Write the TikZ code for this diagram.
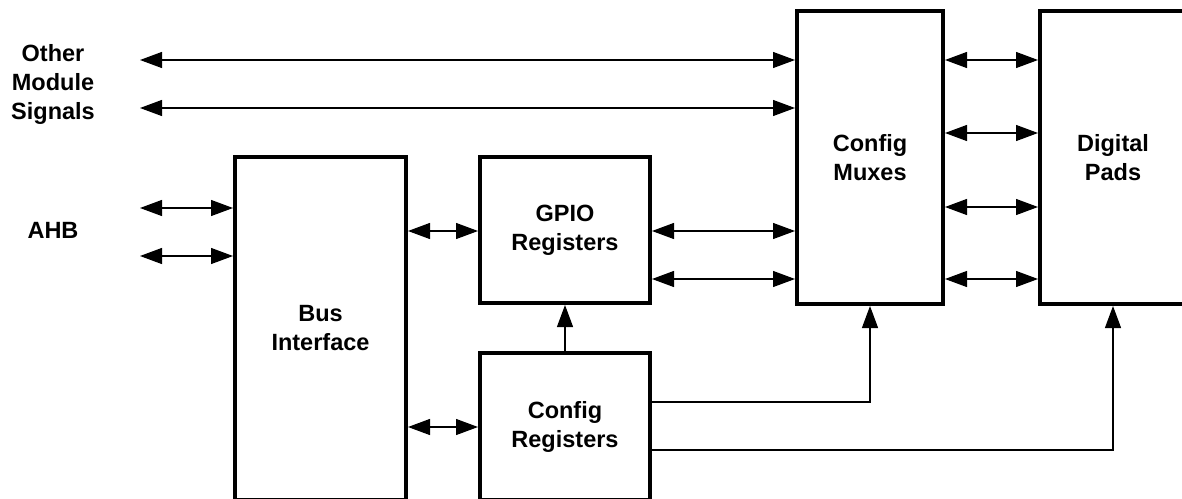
\documentclass[tikz,border=0pt]{standalone}
\usepackage{fontspec}
\setmainfont{Liberation Sans}
\usetikzlibrary{arrows.meta,calc}
\begin{document}
\begin{tikzpicture}[x=1pt,y=-1pt,
  blk/.style={draw,line width=4pt,inner sep=0pt,align=center,font=\bfseries\fontsize{23.5}{29}\selectfont},
  lbl/.style={align=center,inner sep=0pt,font=\bfseries\fontsize{23.5}{29}\selectfont},
  conn/.style={line width=1.2pt},
  tip/.style={conn,-{Triangle[length=22pt,width=16pt]}},
  bi/.style={conn,{Triangle[length=22pt,width=16pt]}-{Triangle[length=22pt,width=16pt]}}]
\useasboundingbox (0,0) rectangle (1182,498);
% blocks
\node[blk,minimum width=171pt,minimum height=343pt] (bus) at (320.5,328.5) {Bus\\Interface};
\node[blk,minimum width=170pt,minimum height=146pt] (gpio) at (565,230) {GPIO\\Registers};
\node[blk,minimum width=170pt,minimum height=147pt] (cfg) at (565,426.5) {Config\\Registers};
\node[blk,minimum width=146pt,minimum height=293pt] (mux) at (870,157.5) {Config\\Muxes};
\node[blk,minimum width=146pt,minimum height=293pt] (pads) at (1113,157.5) {Digital\\Pads};
% labels
\node[lbl] (oms) at (53,84) {Other\\Module\\Signals};
\node[lbl] (ahb) at (53,230) {AHB};
% free ends
\coordinate (o1) at (140,60);
\coordinate (o2) at (140,108);
\coordinate (a1) at (140,208);
\coordinate (a2) at (140,256);
% connectors
\draw[bi] (o1) -- (mux.west |- o1);
\draw[bi] (o2) -- (mux.west |- o2);
\draw[bi] (a1) -- (bus.west |- a1);
\draw[bi] (a2) -- (bus.west |- a2);
\draw[bi] (bus.east |- 0,231) -- (gpio.west |- 0,231);
\draw[bi] (bus.east |- 0,427) -- (cfg.west |- 0,427);
\draw[bi] (gpio.east |- 0,231) -- (mux.west |- 0,231);
\draw[bi] (gpio.east |- 0,279) -- (mux.west |- 0,279);
\foreach \yy in {60,133,207,279}{
  \draw[bi] (mux.east |- 0,\yy) -- (pads.west |- 0,\yy);
}
\draw[tip] (cfg.north) -- (gpio.south);
\draw[tip] (cfg.east |- 0,402) -| (mux.south);
\draw[tip] (cfg.east |- 0,450) -| (pads.south);
\end{tikzpicture}
\end{document}
